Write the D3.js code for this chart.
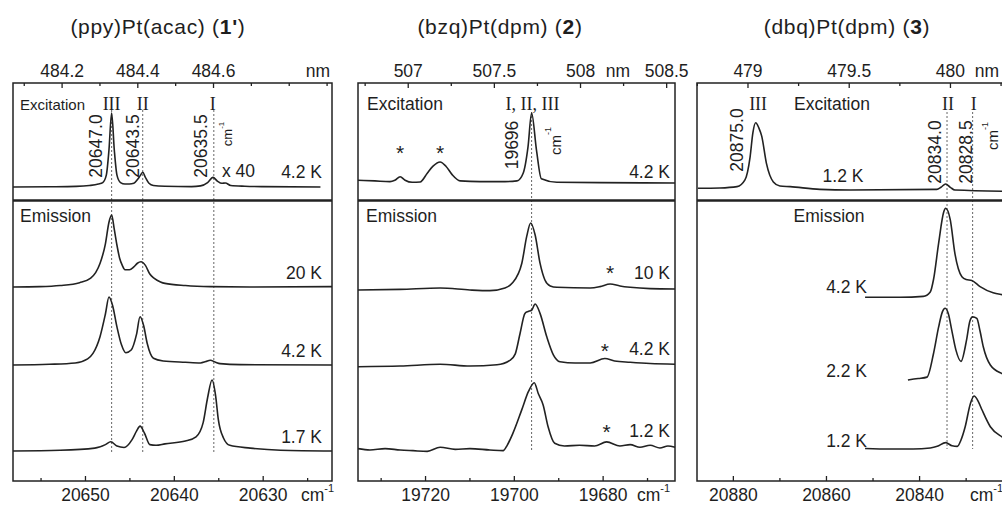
<!DOCTYPE html>
<html>
<head>
<meta charset="utf-8">
<script src="https://cdn.jsdelivr.net/npm/d3@7"></script>
<style>
  body { margin: 0; background: #fff; }
  svg text { font-family: Arial, "Liberation Sans", Helvetica, sans-serif; fill: #1e1e1e; }
  svg text.roman { font-family: "Times New Roman", "Liberation Serif", serif; }
  .trace { fill: none; stroke: #222; stroke-width: 1.6; stroke-linejoin: round; }
  .guide { stroke: #555; stroke-width: 0.9; stroke-dasharray: 2,2; }
  .frame { fill: none; stroke: #222; stroke-width: 1.5; }
  .divider { stroke: #222; stroke-width: 2.5; }
</style>
</head>
<body>
<div id="chart"></div>
<script>
// ---- (ppy)Pt(acac): [wavenumber cm-1, relative intensity]
var ppyExc42K = [[20658.1,0],[20654,0.3],[20651,0.8],[20649.5,2],[20648.5,4],[20648,6],[20647.6,16],[20647.3,50],[20647.0,100],[20646.7,50],[20646.4,16],[20646,6],[20645.5,4],[20645,4],[20644.5,5],[20644.1,10],[20643.8,15],[20643.5,20],[20643.2,13],[20642.8,5],[20642.3,2],[20641,1],[20638,0.5],[20637,1.5],[20636.2,6],[20635.6,13],[20635.1,8],[20634.6,5],[20634.2,5.5],[20633.6,2],[20632,1],[20630,0.5],[20623.5,0]];
var ppyEm20K = [[20658.1,0],[20655.1,0.5],[20652.8,2],[20650.6,6],[20649.4,12],[20648.8,20],[20648.3,33],[20647.7,60],[20647.3,90],[20647.0,100],[20646.7,80],[20646.4,58],[20646.1,40],[20645.8,30],[20645.5,24],[20645.0,24],[20644.5,28],[20644.1,33],[20643.7,35],[20643.2,30],[20642.7,18],[20642.2,12],[20641.5,7],[20641,5],[20638.7,2],[20635.9,0.5],[20631.4,0],[20622.2,0.5]];
var ppyEm42K = [[20658.1,0],[20654,1],[20651.1,3],[20649.7,9],[20649.1,17],[20648.3,42],[20647.7,75],[20647.3,100],[20646.9,88],[20646.4,56],[20645.9,30],[20645.4,18],[20644.8,22],[20644.2,45],[20643.8,71],[20643.4,58],[20643.0,32],[20642.3,10],[20641.2,6],[20638.7,4],[20637,3],[20636.4,5],[20635.9,7],[20635.3,4],[20634.8,2],[20632.5,0.5],[20622.2,0]];
var ppyEm17K = [[20658.1,0],[20652.8,1],[20648.9,4],[20647.7,9],[20647.1,13],[20646.4,7],[20645.6,5],[20644.7,16],[20644.2,28],[20643.8,35],[20643.3,25],[20642.7,9],[20642,8],[20641,10],[20638.7,14],[20637.5,20],[20636.7,40],[20636.2,75],[20635.7,100],[20635.3,78],[20635.0,45],[20634.4,18],[20633.7,8],[20631.4,4],[20628,1],[20622.2,0]];
var ppyPeaks = [20647.0, 20643.5, 20635.5];
var ppyPeakNames = ["III", "II", "I"];
var ppyNmTicks = [484.2, 484.4, 484.6];
var ppyNmMinor = [484.1, 484.3, 484.5, 484.7, 484.8, 484.9];
var ppyCmTicks = [20650, 20640, 20630];
var ppyCmMinor = [20655, 20645, 20635, 20625];

// ---- (bzq)Pt(dpm)
var bzqExc42K = [[19735.1,4],[19731.3,3],[19727.9,2],[19726.8,4],[19725.6,9],[19724.5,4],[19722.9,1],[19721.1,1.5],[19719.5,14],[19718.2,24],[19716.6,30],[19715.3,24],[19713.9,12],[19712.1,3],[19707.6,2],[19702,2],[19699.3,3],[19697.9,14],[19696.8,52],[19696.0,100],[19694.9,47],[19693.8,6],[19690.3,1],[19680.6,0.5],[19663.7,0]];
var bzqEm10K = [[19735.1,0],[19725.6,1],[19716.6,3],[19709.9,0],[19705.4,-1],[19702,3],[19700.4,10],[19698.2,40],[19697.1,80],[19696.2,100],[19695.2,82],[19694.1,40],[19693,15],[19691.8,6],[19690.3,4],[19682.8,3],[19680.6,5],[19678.3,9],[19676.1,6],[19673.8,4],[19669.3,2],[19663.7,1.5]];
var bzqEm42K = [[19735.1,0],[19725.6,1],[19716.6,4],[19709.9,1],[19703.8,3],[19700.9,10],[19699.7,20],[19698.6,53],[19697.5,85],[19696.8,88],[19696.0,90],[19695.2,100],[19694.1,85],[19692.6,48],[19691.1,19],[19689.6,8],[19686.2,6],[19682.8,6],[19679.5,13],[19677.3,9],[19673.8,7],[19669.3,5],[19663.7,4]];
var bzqEm12K = [[19735.1,2],[19732.4,0],[19729,2],[19725.6,0],[19722.7,-1],[19719.5,-2],[19716.6,4],[19713.2,1],[19709.9,2],[19705.4,0],[19702.4,-1],[19701.5,7],[19700.2,25],[19698.2,60],[19696.7,87],[19695.4,100],[19694.5,84],[19693.4,67],[19692.3,35],[19690.8,10],[19688.6,6],[19685.2,7],[19681.8,6],[19679.1,12],[19676.1,6],[19673.8,8],[19671.6,4],[19669.3,7],[19667.1,3],[19665.3,6],[19663.7,4]];
var bzqPeaks = [19696];
var bzqStars = [19725.6, 19716.6, 19678.3, 19679.5, 19679.1];
var bzqNmTicks = [507, 507.5, 508, 508.5];
var bzqNmMinor = [506.75, 507.25, 507.75, 508.25];
var bzqCmTicks = [19720, 19700, 19680];
var bzqCmMinor = [19730, 19710, 19690, 19670];

// ---- (dbq)Pt(dpm)
var dbqExc12K = [[20887.5,2.5],[20882.8,3],[20879.1,5],[20877.4,15],[20876.3,49],[20875.7,85],[20875.1,100],[20874.4,92],[20873.8,80],[20872.8,40],[20871.3,12],[20869.9,6],[20867.7,5],[20861.3,1],[20854.8,0],[20836.2,1],[20835.3,4],[20834.3,9],[20833.3,4],[20832.3,0],[20819.4,-2]];
var dbqEm42K = [[20851.6,0],[20844.1,0],[20839.1,1],[20837.6,6],[20836.9,20],[20835.8,61],[20834.7,96],[20834.3,100],[20833.3,87],[20832.3,49],[20830.8,23],[20829.9,20],[20828.7,19],[20826.9,12],[20824.1,5],[20822.2,3],[20819.4,1]];
var dbqEm22K = [[20842.4,0],[20840.2,2],[20838.3,4],[20836.9,37],[20835.8,74],[20835.0,95],[20834.4,100],[20833.7,92],[20833.0,70],[20832.1,42],[20831.0,26],[20829.8,56],[20829.1,82],[20828.5,88],[20827.6,86],[20826.9,68],[20826.2,46],[20824.7,21],[20822.2,9],[20819.4,4]];
var dbqEm12K = [[20851.6,1],[20846.2,0],[20841.3,0],[20837.6,2],[20836.1,5],[20834.3,12],[20832.9,6],[20831.8,5],[20831.0,17],[20830.1,42],[20829.0,85],[20828.2,100],[20827.3,90],[20826.5,74],[20824.7,42],[20822.2,23],[20819.4,12]];
var dbqPeaks = [20875.0, 20834.0, 20828.5];
var dbqPeakNames = ["III", "II", "I"];
var dbqNmTicks = [479, 479.5, 480];
var dbqNmMinor = [478.75, 479.25, 479.75, 480.25];
var dbqCmTicks = [20880, 20860, 20840];
var dbqCmMinor = [20870, 20850, 20830, 20820];

var FONT = 17.5;
var top0 = 83, bottom0 = 481, split = 200.5;

var svg = d3.select("#chart").append("svg")
  .attr("width", 1002)
  .attr("height", 505);

var panels = [
  { title: ["(ppy)Pt(acac) (", "1'", ")"], titleX: 158, left: 13, right: 332, cm: [20658.1, 20622.2],
    nmTicks: ppyNmTicks, nmMinor: ppyNmMinor, cmTicks: ppyCmTicks, cmMinor: ppyCmMinor,
    nmX: 318, cmX: 301, guides: ppyPeaks, guideTop: 110, guideBottom: 452,
    traces: [
      { data: ppyExc42K, base: 187, h: 74, label: "4.2 K", lx: 322, ly: 178 },
      { data: ppyEm20K, base: 287, h: 72, label: "20 K", lx: 322, ly: 279 },
      { data: ppyEm42K, base: 365, h: 68, label: "4.2 K", lx: 322, ly: 357 },
      { data: ppyEm17K, base: 451, h: 71, label: "1.7 K", lx: 322, ly: 443 }
    ] },
  { title: ["(bzq)Pt(dpm) (", "2", ")"], titleX: 500, left: 358, right: 675, cm: [19735.1, 19663.7],
    nmTicks: bzqNmTicks, nmMinor: bzqNmMinor, cmTicks: bzqCmTicks, cmMinor: bzqCmMinor,
    nmX: 618, cmX: 637, guides: bzqPeaks, guideTop: 112, guideBottom: 450,
    traces: [
      { data: bzqExc42K, base: 183, h: 70, label: "4.2 K", lx: 670, ly: 178 },
      { data: bzqEm10K, base: 290, h: 67, label: "10 K", lx: 670, ly: 279 },
      { data: bzqEm42K, base: 366.7, h: 62.7, label: "4.2 K", lx: 670, ly: 355 },
      { data: bzqEm12K, base: 450, h: 67.3, label: "1.2 K", lx: 670, ly: 437 }
    ] },
  { title: ["(dbq)Pt(dpm) (", "3", ")"], titleX: 847, left: 697, right: 1015, cm: [20887.7, 20819.4],
    nmTicks: dbqNmTicks, nmMinor: dbqNmMinor, cmTicks: dbqCmTicks, cmMinor: dbqCmMinor,
    nmX: 987, cmX: 970, guides: dbqPeaks.slice(1), guideTop: 112, guideBottom: 449,
    traces: [
      { data: dbqExc12K, base: 190, h: 67.3, label: "1.2 K", lx: 843, ly: 182, anchor: "middle" },
      { data: dbqEm42K, base: 297.3, h: 89, label: "4.2 K", lx: 867, ly: 293 },
      { data: dbqEm22K, base: 380, h: 71.7, label: "2.2 K", lx: 867, ly: 377 },
      { data: dbqEm12K, base: 449, h: 53, label: "1.2 K", lx: 867, ly: 447 }
    ] }
];

function styleAxis(g) {
  g.select(".domain").remove();
  g.selectAll(".tick line").attr("stroke", "#222").attr("stroke-width", 1.3);
  g.selectAll(".tick text").attr("font-size", FONT).attr("fill", "#1e1e1e")
    .attr("font-family", "Arial, 'Liberation Sans', Helvetica, sans-serif");
}

// "cm" with a raised "-1", starting at x
function cmLabel(sel, x, y) {
  var t = sel.append("text").attr("x", x).attr("y", y).attr("font-size", FONT);
  t.append("tspan").text("cm");
  t.append("tspan").attr("dy", -9).attr("font-size", 11).text("-1");
  return t;
}

function rotLabel(sel, x, y, txt, size) {
  return sel.append("text")
    .attr("transform", "translate(" + x + "," + y + ")rotate(-90)")
    .attr("text-anchor", "middle")
    .attr("dominant-baseline", "central")
    .attr("font-size", size || FONT)
    .text(txt);
}

function rotCm(sel, x, y, size) {
  var t = sel.append("text")
    .attr("transform", "translate(" + x + "," + y + ")rotate(-90)")
    .attr("text-anchor", "middle")
    .attr("dominant-baseline", "central")
    .attr("font-size", size);
  t.append("tspan").text("cm");
  t.append("tspan").attr("dy", -size * 0.45).attr("font-size", size * 0.6).text("-1");
  return t;
}

panels.forEach(function(p) {
  var g = svg.append("g");
  p.x = d3.scaleLinear().domain(p.cm).range([p.left, p.right]);
  p.nm = d3.scaleLinear().domain([1e7 / p.cm[0], 1e7 / p.cm[1]]).range([p.left, p.right]);

  // title
  var t = g.append("text").attr("x", p.titleX).attr("y", 34)
    .attr("text-anchor", "middle").attr("font-size", 21).attr("letter-spacing", 0.7);
  t.append("tspan").text(p.title[0]);
  t.append("tspan").attr("font-weight", "bold").text(p.title[1]);
  t.append("tspan").text(p.title[2]);

  // dotted guides through the origins
  g.selectAll(".guide").data(p.guides).enter().append("line")
    .attr("class", "guide")
    .attr("x1", function(d){ return p.x(d); })
    .attr("x2", function(d){ return p.x(d); })
    .attr("y1", p.guideTop)
    .attr("y2", p.guideBottom);

  // spectra
  p.traces.forEach(function(tr) {
    var y = d3.scaleLinear().domain([0, 100]).range([tr.base, tr.base - tr.h]);
    var line = d3.line()
      .x(function(d){ return p.x(d[0]); })
      .y(function(d){ return y(d[1]); })
      .curve(d3.curveMonotoneX);
    g.append("path").attr("class", "trace").attr("d", line(tr.data));
    g.append("text").attr("x", tr.lx).attr("y", tr.ly)
      .attr("text-anchor", tr.anchor || "end").attr("font-size", FONT).text(tr.label);
  });

  // frame
  g.append("rect").attr("class", "frame")
    .attr("x", p.left).attr("y", top0)
    .attr("width", p.right - p.left).attr("height", bottom0 - top0);
  g.append("line").attr("class", "divider")
    .attr("x1", p.left).attr("x2", p.right).attr("y1", split).attr("y2", split);

  // top nm axis
  g.append("g").attr("transform", "translate(0," + top0 + ")")
    .call(d3.axisTop(p.nm).tickValues(p.nmTicks).tickSizeInner(-5).tickSizeOuter(0).tickPadding(6)
      .tickFormat(function(d){ return String(d); }))
    .call(styleAxis);
  g.append("g").attr("transform", "translate(0," + top0 + ")")
    .call(d3.axisTop(p.nm).tickValues(p.nmMinor).tickSizeInner(-3).tickSizeOuter(0).tickFormat(""))
    .call(styleAxis);
  g.append("text").attr("x", p.nmX).attr("y", 77).attr("text-anchor", "middle")
    .attr("font-size", FONT).text("nm");

  // bottom cm-1 axis
  g.append("g").attr("transform", "translate(0," + bottom0 + ")")
    .call(d3.axisBottom(p.x).tickValues(p.cmTicks).tickSizeInner(-5).tickSizeOuter(0).tickPadding(8)
      .tickFormat(function(d){ return String(d); }))
    .call(styleAxis);
  g.append("g").attr("transform", "translate(0," + bottom0 + ")")
    .call(d3.axisBottom(p.x).tickValues(p.cmMinor).tickSizeInner(-3).tickSizeOuter(0).tickFormat(""))
    .call(styleAxis);
  cmLabel(g, p.cmX, 501);

  p.g = g;
});

// panel 1 annotations
var p1 = panels[0], g1 = p1.g;
g1.append("text").attr("x", 20).attr("y", 110).attr("font-size", 15).text("Excitation");
g1.append("text").attr("x", 20).attr("y", 222).attr("font-size", FONT).text("Emission");
var p1NameDx = [0, 0, -1], p1ValDx = [-16, -10, -13];
ppyPeaks.forEach(function(v, i) {
  g1.append("text").attr("class", "roman").attr("x", p1.x(v) + p1NameDx[i]).attr("y", 110)
    .attr("text-anchor", "middle").attr("font-size", 18).text(ppyPeakNames[i]);
  rotLabel(g1, p1.x(v) + p1ValDx[i], 146, d3.format(".1f")(v));
});
rotCm(g1, 227, 134, 13);
g1.append("text").attr("x", 222).attr("y", 177).attr("font-size", FONT).text("x 40");

// panel 2 annotations
var p2 = panels[1], g2 = p2.g;
g2.append("text").attr("x", 367).attr("y", 110).attr("font-size", FONT).text("Excitation");
g2.append("text").attr("x", 366).attr("y", 222).attr("font-size", FONT).text("Emission");
g2.append("text").attr("class", "roman").attr("x", p2.x(bzqPeaks[0]) + 1).attr("y", 110)
  .attr("text-anchor", "middle").attr("font-size", 18).text("I, II, III");
rotLabel(g2, p2.x(bzqPeaks[0]) - 20, 145, String(bzqPeaks[0]));
rotCm(g2, p2.x(bzqPeaks[0]) + 23, 141, 15);
var starY = [160, 160, 280, 358, 439];
bzqStars.forEach(function(v, i) {
  g2.append("text").attr("x", p2.x(v)).attr("y", starY[i]).attr("text-anchor", "middle")
    .attr("font-size", 21).text("*");
});

// panel 3 annotations
var p3 = panels[2], g3 = p3.g;
g3.append("text").attr("x", 832).attr("y", 110).attr("text-anchor", "middle").attr("font-size", FONT).text("Excitation");
g3.append("text").attr("x", 829).attr("y", 222).attr("text-anchor", "middle").attr("font-size", FONT).text("Emission");
var p3NameDx = [2, 1, 1], p3ValDx = [-19, -12, -7], p3ValY = [140, 152, 152];
dbqPeaks.forEach(function(v, i) {
  g3.append("text").attr("class", "roman").attr("x", p3.x(v) + p3NameDx[i]).attr("y", 110)
    .attr("text-anchor", "middle").attr("font-size", 18).text(dbqPeakNames[i]);
  rotLabel(g3, p3.x(v) + p3ValDx[i], p3ValY[i], d3.format(".1f")(v));
});
rotCm(g3, 992, 136, 15);
</script>
</body>
</html>
